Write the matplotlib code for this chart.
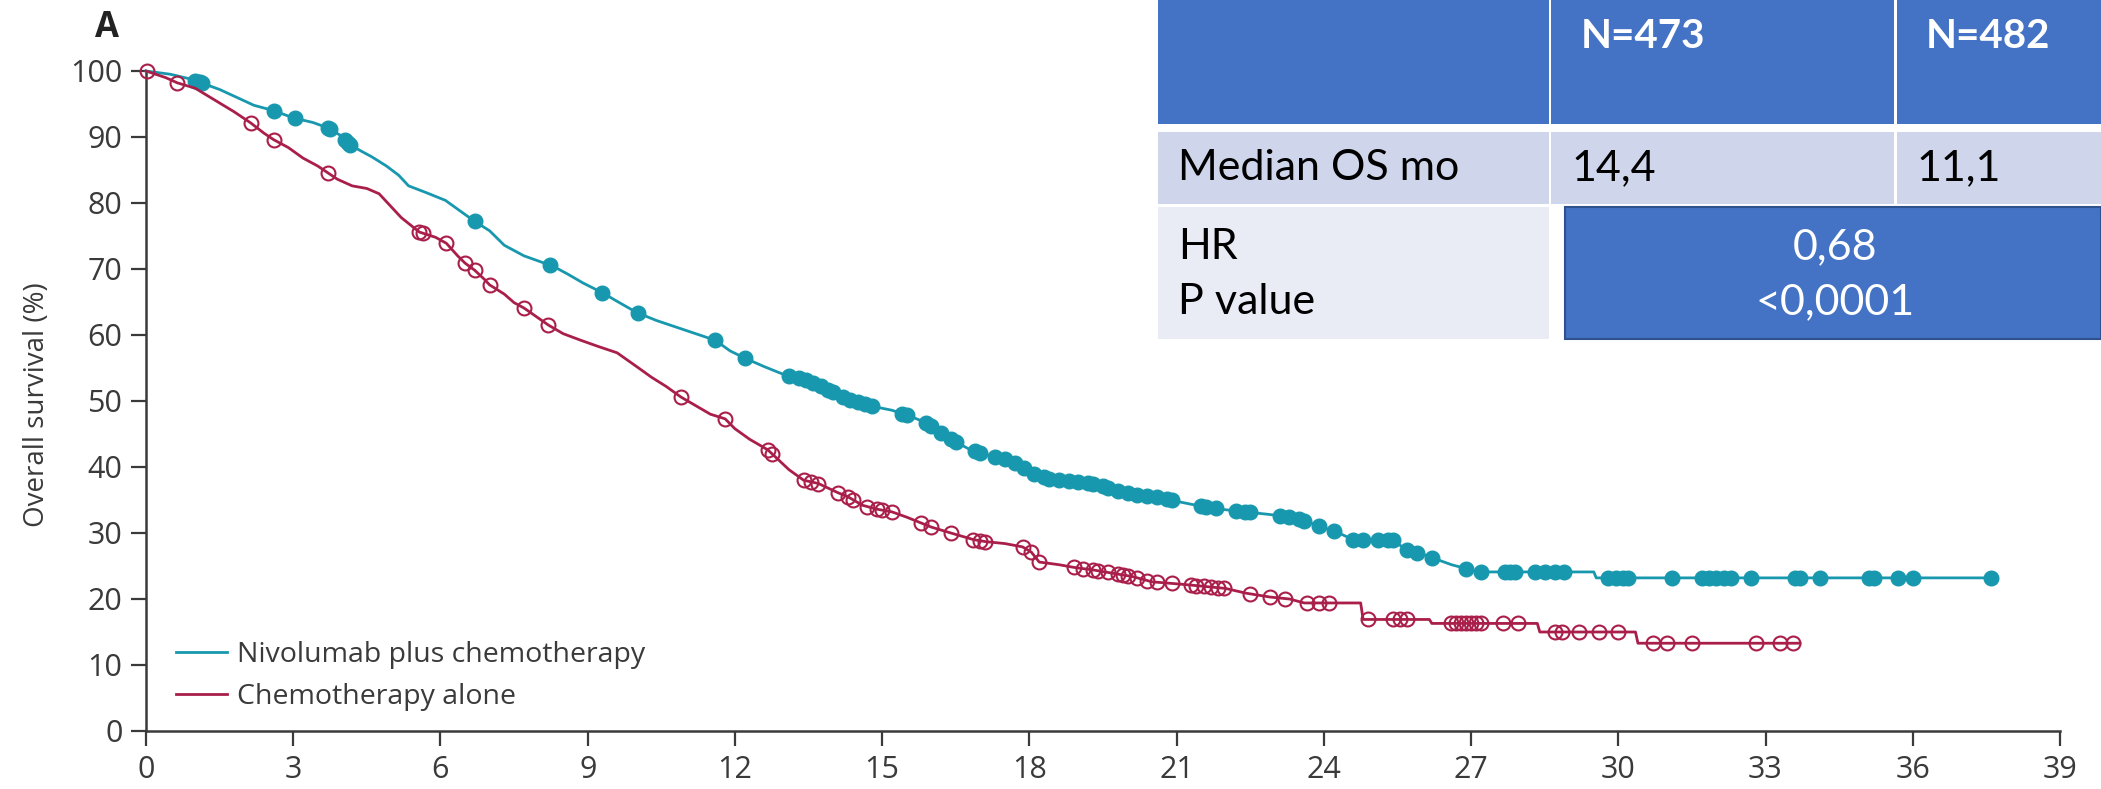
import numpy as np
import matplotlib
matplotlib.use("Agg")
import matplotlib.pyplot as plt
from matplotlib.patches import Rectangle

plt.rcParams['font.family'] = ['Open Sans', 'DejaVu Sans']

# Kaplan-Meier curves (months, % alive), vertices of the drawn line
nivo_t = [0, 0.5, 0.9, 1.2, 1.5, 1.85, 2.2, 2.6, 3.0, 3.4, 3.7, 3.95, 4.16, 4.4, 4.6, 4.9,
          5.15, 5.35, 5.7, 6.1, 6.4, 6.7, 7.0, 7.3, 7.7, 8.0, 8.3, 8.6, 8.9, 9.3, 9.6, 10.0,
          10.4, 10.8, 11.2, 11.6, 11.9, 12.2, 12.6, 13.0, 13.4, 13.8, 14.1, 14.4, 14.8, 15.2,
          15.6, 15.9, 16.2, 16.5, 16.8, 17.1, 17.5, 17.8, 18.1, 18.4, 18.8, 19.3, 19.7, 20.1,
          20.6, 21.0, 21.4, 21.9, 22.4, 22.9, 23.4, 23.7, 24.0, 24.3, 24.6, 25.4, 25.7, 26.0,
          26.3, 26.6, 26.9, 27.15, 29.5, 29.55, 37.6]
nivo_s = [100, 99.5, 98.8, 98.0, 97.2, 96.0, 94.8, 94.0, 92.9, 92.2, 91.4, 90.3, 88.8, 87.8,
          87.0, 85.6, 84.2, 82.6, 81.6, 80.4, 78.8, 77.2, 75.8, 73.6, 72.0, 71.2, 70.4, 69.2,
          67.9, 66.4, 65.1, 63.4, 62.2, 61.2, 60.2, 59.2, 57.6, 56.5, 55.2, 54.0, 53.4, 52.1,
          51.0, 50.0, 49.2, 48.6, 47.6, 46.7, 45.2, 43.8, 42.6, 41.9, 41.2, 40.2, 39.0, 38.2,
          37.9, 37.5, 36.6, 35.9, 35.4, 34.8, 34.2, 33.6, 33.2, 32.8, 32.3, 31.6, 30.8, 30.0,
          29.0, 28.9, 27.4, 26.8, 26.0, 25.2, 24.6, 24.1, 24.1, 23.2, 23.2]
nivo_cens = [1.0, 1.05, 1.1, 1.15, 2.6, 3.04, 3.7, 3.75, 4.06, 4.12, 4.16, 6.7, 8.23, 9.29,
             10.03, 11.6, 12.2, 13.1, 13.3, 13.45, 13.6, 13.75, 13.9, 14.0, 14.2, 14.35, 14.5,
             14.65, 14.8, 15.4, 15.5, 15.9, 16.0, 16.2, 16.4, 16.5, 16.9, 17.0, 17.3, 17.5,
             17.7, 17.9, 18.1, 18.3, 18.4, 18.6, 18.8, 19.0, 19.2, 19.3, 19.5, 19.6, 19.8, 20.0,
             20.2, 20.4, 20.6, 20.8, 20.9, 21.5, 21.6, 21.8, 22.2, 22.4, 22.5, 23.1, 23.3, 23.5,
             23.6, 23.9, 24.2, 24.6, 24.8, 25.1, 25.3, 25.4, 25.7, 25.9, 26.2, 26.9, 27.2, 27.7,
             27.8, 27.9, 28.3, 28.5, 28.7, 28.9, 29.8, 29.95, 30.1, 30.2, 31.1, 31.7, 31.85,
             32.0, 32.15, 32.3, 32.7, 33.6, 33.7, 34.1, 35.1, 35.2, 35.7, 36.0, 37.6]

chemo_t = [0, 0.4, 0.64, 1.0, 1.4, 1.8, 2.14, 2.4, 2.6, 2.9, 3.2, 3.5, 3.7, 3.9, 4.2, 4.5,
           4.75, 5.0, 5.2, 5.4, 5.57, 5.9, 6.12, 6.35, 6.5, 6.7, 6.9, 7.0, 7.3, 7.5, 7.7, 7.95,
           8.2, 8.5, 8.86, 9.2, 9.6, 10.0, 10.3, 10.6, 10.9, 11.2, 11.5, 11.8, 12.0, 12.3,
           12.67, 12.9, 13.1, 13.4, 13.7, 13.9, 14.1, 14.3, 14.6, 14.9, 15.2, 15.5, 15.8, 16.0,
           16.4, 16.86, 17.1, 17.5, 17.86, 18.04, 18.2, 18.6, 18.9, 19.3, 19.7, 20.1, 20.5,
           21.0, 21.3, 22.0, 22.4, 22.9, 23.3, 23.6, 24.75, 24.8, 26.15, 26.2, 28.35, 28.4,
           30.35, 30.4, 33.7]
chemo_s = [100, 99.0, 98.2, 97.4, 95.6, 93.8, 92.1, 90.6, 89.6, 88.4, 86.8, 85.6, 84.6, 83.6,
           82.6, 82.2, 81.4, 79.4, 77.8, 76.6, 75.6, 74.8, 73.9, 72.0, 70.9, 69.8, 68.4, 67.6,
           66.2, 64.9, 64.1, 62.8, 61.5, 60.2, 59.2, 58.3, 57.3, 55.2, 53.6, 52.2, 50.6, 49.3,
           48.0, 47.3, 45.8, 44.2, 42.6, 41.0, 39.6, 38.0, 37.5, 36.8, 36.1, 35.5, 34.2, 33.6,
           33.2, 32.4, 31.5, 30.9, 30.0, 29.0, 28.7, 28.4, 27.9, 27.1, 25.6, 25.2, 24.8, 24.4,
           23.9, 23.4, 22.6, 22.3, 22.1, 21.6, 20.9, 20.3, 20.0, 19.4, 19.4, 16.9, 16.9, 16.3,
           16.3, 15.0, 15.0, 13.3, 13.3]
chemo_cens = [0.03, 0.64, 2.14, 2.6, 3.7, 5.57, 5.65, 6.12, 6.5, 6.7, 7.0, 7.7, 8.2, 10.9,
              11.8, 12.67, 12.75, 13.4, 13.55, 13.7, 14.1, 14.3, 14.4, 14.7, 14.9, 15.0, 15.2,
              15.8, 16.0, 16.4, 16.86, 17.0, 17.1, 17.86, 18.04, 18.2, 18.9, 19.1, 19.3, 19.4,
              19.6, 19.8, 19.9, 20.0, 20.2, 20.4, 20.6, 20.9, 21.3, 21.4, 21.55, 21.7, 21.85,
              21.96, 22.5, 22.9, 23.2, 23.65, 23.9, 24.1, 24.9, 25.4, 25.55, 25.7, 26.6, 26.7,
              26.8, 26.9, 27.0, 27.1, 27.2, 27.65, 27.96, 28.7, 28.85, 29.2, 29.6, 30.0, 30.7,
              31.0, 31.5, 32.8, 33.3, 33.56]

labels = ["Nivolumab plus chemotherapy", "Chemotherapy alone"]
x_ticks = list(range(0, 40, 3))
y_ticks = list(range(0, 101, 10))

# summary table
col_heads = ["", "N=473", "N=482"]
median_row = ["Median OS mo", "14,4", "11,1"]
hr_labels = ["HR", "P value"]
hr_values = ["0,68", "<0,0001"]

teal = "#1898ae"
crimson = "#a91f4a"
axc = "#3a3a3a"

W, H = 2101, 789
fig = plt.figure(figsize=(W / 100, H / 100), dpi=100)
ax = fig.add_axes([146 / W, 1 - 731 / H, (2060 - 146) / W, (731 - 71) / H])

ax.plot(nivo_t, nivo_s, color=teal, lw=2.0, clip_on=False, label=labels[0], zorder=3)
ax.plot(nivo_cens, np.interp(nivo_cens, nivo_t, nivo_s), 'o', color=teal, ms=10.5, mec=teal,
        clip_on=False, zorder=3)
ax.plot(chemo_t, chemo_s, color=crimson, lw=2.0, clip_on=False, label=labels[1], zorder=4)
ax.plot(chemo_cens, np.interp(chemo_cens, chemo_t, chemo_s), 'o', mfc='none', mec=crimson,
        mew=1.5, ms=10, clip_on=False, zorder=4)

ax.set_xlim(0, 39)
ax.set_ylim(0, 100)
ax.set_xticks(x_ticks)
ax.set_yticks(y_ticks)
for side in ['top', 'right']:
    ax.spines[side].set_visible(False)
for side in ['left', 'bottom']:
    ax.spines[side].set_color(axc)
    ax.spines[side].set_linewidth(1.8)
ax.tick_params(colors=axc, width=1.6, length=11, pad=6, labelsize=22)
ax.tick_params(axis='x', pad=6)

fig.text(37 / W, 1 - 405 / H, "Overall survival (%)", rotation=90, ha='center', va='center',
         fontsize=20, color=axc)
fig.text(107 / W, 1 - 28 / H, "A", ha='center', va='center', fontsize=25, fontweight='bold',
         color='#222222')

ax.legend(loc='center left', bbox_to_anchor=(162 / W, 1 - 676 / H), bbox_transform=fig.transFigure,
          frameon=False, fontsize=20.5, handlelength=1.8, handletextpad=0.34, labelspacing=0.52,
          borderpad=0, labelcolor=axc)

# table drawn on top of the chart, in pixel positions
blue = "#4472C4"
mid = "#CFD5EA"
light = "#E9EBF5"


def box(x0, y0, x1, y1, fc, ec='none', lw=0):
    fig.add_artist(Rectangle((x0 / W, 1 - y1 / H), (x1 - x0) / W, (y1 - y0) / H,
                             transform=fig.transFigure, facecolor=fc, edgecolor=ec, lw=lw, zorder=5))


def txt(x, y, s, **kw):
    fig.text(x / W, 1 - y / H, s, family=['Lato', 'DejaVu Sans'], va='center', zorder=6, **kw)


cols = [(1158, 1549), (1551, 1894), (1897, 2101)]
for x0, x1 in cols:
    box(x0, 0, x1, 124, blue)
    box(x0, 132, x1, 204, mid)
box(1158, 207, 1549, 339, light)
box(1565, 207, 2101, 339, blue, ec='#2F528F', lw=1.5)

txt(1581, 37, col_heads[1], color='white', fontsize=29, fontweight='bold')
txt(1926, 37, col_heads[2], color='white', fontsize=29, fontweight='bold')
txt(1178, 168, median_row[0], color='black', fontsize=31)
txt(1571, 168, median_row[1], color='black', fontsize=31)
txt(1916, 168, median_row[2], color='black', fontsize=31)
txt(1178, 247, hr_labels[0], color='black', fontsize=31)
txt(1178, 302, hr_labels[1], color='black', fontsize=31)
txt(1835, 247, hr_values[0], color='white', fontsize=31, ha='center')
txt(1835, 302, hr_values[1], color='white', fontsize=31, ha='center')

fig.savefig('out.png', dpi=100)
